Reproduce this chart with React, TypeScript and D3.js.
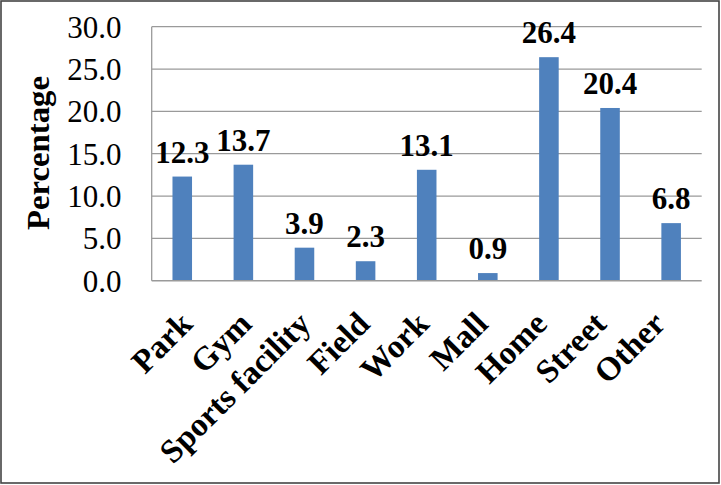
import React from "react";
import * as d3 from "d3";

const categories = ["Park", "Gym", "Sports facility", "Field", "Work", "Mall", "Home", "Street", "Other"];
const values = [12.3, 13.7, 3.9, 2.3, 13.1, 0.9, 26.4, 20.4, 6.8];
const yTicks = [0, 5, 10, 15, 20, 25, 30];
const yTitle = "Percentage";

const W = 721;
const H = 485;
const plot = { left: 151.7, right: 701.7, top: 26.7, bottom: 280.7 };
const FONT = "'Liberation Serif', 'Times New Roman', Tinos, serif";

export default function App() {
  const x = d3.scaleBand<string>().domain(categories).range([plot.left, plot.right]).paddingInner(0).paddingOuter(0);
  const xl = d3.scaleBand<string>().domain(categories).range([plot.left + 10, plot.right - 8]).paddingInner(0).paddingOuter(0);
  const y = d3.scaleLinear().domain([0, 30]).range([plot.bottom, plot.top]);
  const bw = x.bandwidth() * 0.32;

  return (
    <svg width={W} height={H} style={{ position: "absolute", left: 0, top: 0, fontFamily: FONT }}>
      <rect x={0} y={0} width={W} height={H} fill="#fff" />
      <rect x={1} y={1} width={718} height={482} fill="none" stroke="#444" strokeWidth={1.6} />
      {yTicks.map((t) => (
        <g key={t}>
          {t > 0 && (
            <line x1={plot.left} x2={plot.right} y1={y(t)} y2={y(t)} stroke="#9a9a9a" strokeWidth={1.3} />
          )}
          <text x={121.5} y={y(t)} dy="0.35em" textAnchor="end" fontSize={31} fill="#000" style={{ fontFamily: FONT }}>
            {d3.format(".1f")(t)}
          </text>
        </g>
      ))}
      <line x1={plot.left} x2={plot.left} y1={plot.top} y2={plot.bottom} stroke="#9a9a9a" strokeWidth={1.3} />
      {categories.map((c, i) => {
        const cx = (x(c) as number) + x.bandwidth() / 2;
        const lx = (xl(c) as number) + xl.bandwidth() / 2;
        return (
          <g key={c}>
            <rect x={cx - bw / 2} y={y(values[i])} width={bw} height={plot.bottom - y(values[i])} fill="#4F81BD" />
            <text x={cx} y={y(values[i]) - 14} textAnchor="middle" fontWeight="bold" fontSize={31} fill="#000" style={{ fontFamily: FONT }}>
              {d3.format(".1f")(values[i])}
            </text>
            <text
              transform={`translate(${lx + 3},${plot.bottom + 45}) rotate(-45)`}
              textAnchor="end"
              fontWeight="bold"
              fontSize={33}
              fill="#000"
              style={{ fontFamily: FONT }}
            >
              {c}
            </text>
          </g>
        );
      })}
      <line x1={plot.left} x2={plot.right} y1={plot.bottom} y2={plot.bottom} stroke="#9a9a9a" strokeWidth={1.5} />
      <text
        transform={`translate(49,153) rotate(-90)`}
        textAnchor="middle"
        fontWeight="bold"
        fontSize={31}
        textLength={154}
        lengthAdjust="spacingAndGlyphs"
        fill="#000"
        style={{ fontFamily: FONT }}
      >
        {yTitle}
      </text>
    </svg>
  );
}
